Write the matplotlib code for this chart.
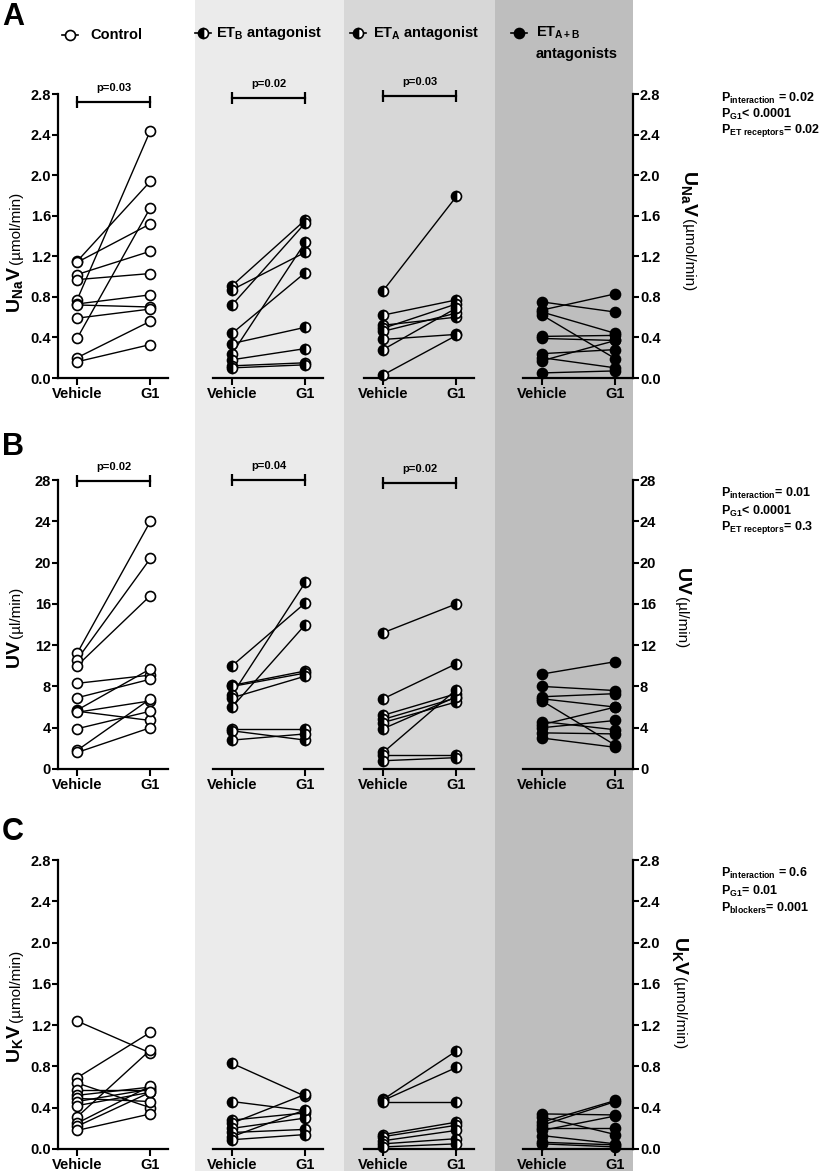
import matplotlib
matplotlib.use('Agg')
import matplotlib.pyplot as plt
from matplotlib.lines import Line2D
from matplotlib.patches import Rectangle
import numpy as np

plt.rcParams['font.family'] = ['Liberation Sans', 'DejaVu Sans']
plt.rcParams['mathtext.fontset'] = 'custom'
plt.rcParams['mathtext.rm'] = 'Liberation Sans'
plt.rcParams['mathtext.bf'] = 'Liberation Sans:bold'
plt.rcParams['mathtext.it'] = 'Liberation Sans:italic'
plt.rcParams['mathtext.sf'] = 'Liberation Sans'

# ---------------- data ----------------
conditions = ["Vehicle", "G1"]
groups = ["Control", "ETB antagonist", "ETA antagonist", "ETA+B antagonists"]

# Panel A: UNaV (umol/min)
A_ctrl_veh = [1.15, 1.14, 1.02, 0.97, 0.77, 0.73, 0.72, 0.59, 0.39, 0.20, 0.16]
A_ctrl_g1 = [1.94, 1.52, 1.25, 1.03, 2.44, 0.82, 0.70, 0.68, 1.68, 0.56, 0.33]
A_etb_veh = [0.91, 0.87, 0.72, 0.44, 0.34, 0.24, 0.18, 0.12, 0.10]
A_etb_g1 = [1.56, 1.24, 1.53, 1.04, 0.50, 1.34, 0.29, 0.15, 0.13]
A_eta_veh = [0.86, 0.62, 0.52, 0.49, 0.46, 0.38, 0.28, 0.03]
A_eta_g1 = [1.79, 0.77, 0.60, 0.73, 0.64, 0.43, 0.69, 0.42]
A_etab_veh = [0.75, 0.67, 0.65, 0.62, 0.41, 0.39, 0.24, 0.20, 0.17, 0.05]
A_etab_g1 = [0.65, 0.83, 0.44, 0.19, 0.42, 0.37, 0.28, 0.10, 0.37, 0.07]

# Panel B: UV (ul/min)
B_ctrl_veh = [11.2, 10.6, 10.0, 8.3, 6.9, 5.7, 5.6, 5.5, 3.9, 1.8, 1.6]
B_ctrl_g1 = [24.0, 20.4, 16.8, 9.1, 8.7, 9.7, 4.7, 6.6, 5.6, 6.8, 4.0]
B_etb_veh = [10.0, 8.1, 8.0, 7.2, 6.9, 6.0, 3.9, 3.7, 2.8]
B_etb_g1 = [16.1, 9.5, 9.3, 18.1, 9.0, 14.0, 3.9, 2.8, 3.4]
B_eta_veh = [13.2, 6.8, 5.2, 4.8, 4.5, 3.9, 1.6, 1.4, 0.8]
B_eta_g1 = [16.0, 10.2, 7.3, 6.9, 6.5, 7.0, 7.7, 1.4, 1.1]
B_etab_veh = [9.2, 8.0, 7.0, 6.8, 6.6, 4.6, 4.3, 4.0, 3.5, 3.0]
B_etab_g1 = [10.4, 7.6, 7.3, 6.0, 2.3, 3.8, 6.0, 4.7, 3.4, 2.1]

# Panel C: UKV (umol/min)
C_ctrl_veh = [1.24, 0.69, 0.64, 0.57, 0.52, 0.49, 0.46, 0.42, 0.31, 0.25, 0.22, 0.18]
C_ctrl_g1 = [0.93, 1.13, 0.40, 0.57, 0.60, 0.46, 0.58, 0.55, 0.96, 0.61, 0.55, 0.34]
C_etb_veh = [0.83, 0.46, 0.28, 0.25, 0.20, 0.16, 0.12, 0.09]
C_etb_g1 = [0.51, 0.37, 0.35, 0.53, 0.30, 0.19, 0.38, 0.14]
C_eta_veh = [0.48, 0.47, 0.46, 0.14, 0.12, 0.08, 0.05, 0.02]
C_eta_g1 = [0.95, 0.79, 0.46, 0.26, 0.23, 0.18, 0.10, 0.05]
C_etab_veh = [0.34, 0.31, 0.26, 0.23, 0.20, 0.18, 0.13, 0.065, 0.05]
C_etab_g1 = [0.33, 0.14, 0.47, 0.46, 0.20, 0.32, 0.05, 0.04, 0.02]

pvals_A = ["p=0.03", "p=0.02", "p=0.03", None]
pvals_B = ["p=0.02", "p=0.04", "p=0.02", None]
pvals_C = [None, None, None, None]

stats_A = [r"$\mathbf{P_{interaction}}$ = 0.02", r"$\mathbf{P_{G1}}$< 0.0001",
           r"$\mathbf{P_{ET\ receptors}}$= 0.02"]
stats_B = [r"$\mathbf{P_{interaction}}$= 0.01", r"$\mathbf{P_{G1}}$< 0.0001",
           r"$\mathbf{P_{ET\ receptors}}$= 0.3"]
stats_C = [r"$\mathbf{P_{interaction}}$ = 0.6", r"$\mathbf{P_{G1}}$= 0.01",
           r"$\mathbf{P_{blockers}}$= 0.001"]

rows = [
    dict(letter="A", data=[(A_ctrl_veh, A_ctrl_g1), (A_etb_veh, A_etb_g1), (A_eta_veh, A_eta_g1), (A_etab_veh, A_etab_g1)],
         ticks=[0, 0.4, 0.8, 1.2, 1.6, 2.0, 2.4, 2.8], fmt="{:.1f}", pv=pvals_A, stats=stats_A,
         lab_bold=r"$\mathbf{U_{Na}V}$", lab_unit="(µmol/min)"),
    dict(letter="B", data=[(B_ctrl_veh, B_ctrl_g1), (B_etb_veh, B_etb_g1), (B_eta_veh, B_eta_g1), (B_etab_veh, B_etab_g1)],
         ticks=[0, 4, 8, 12, 16, 20, 24, 28], fmt="{:d}", pv=pvals_B, stats=stats_B,
         lab_bold=r"$\mathbf{UV}$", lab_unit="(µl/min)"),
    dict(letter="C", data=[(C_ctrl_veh, C_ctrl_g1), (C_etb_veh, C_etb_g1), (C_eta_veh, C_eta_g1), (C_etab_veh, C_etab_g1)],
         ticks=[0, 0.4, 0.8, 1.2, 1.6, 2.0, 2.4, 2.8], fmt="{:.1f}", pv=pvals_C, stats=stats_C,
         lab_bold=r"$\mathbf{U_{K}V}$", lab_unit="(µmol/min)"),
]

# ---------------- layout (pixels) ----------------
W, H = 825, 1171
fig = plt.figure(figsize=(W / 100, H / 100), dpi=100)


def fx(x):
    return x / W


def fy(y):
    return 1 - y / H


band_cols = [(195, 344, '#ebebeb'), (344, 495, '#d7d7d7'), (495, 633, '#bebebe')]
for x0, x1, c in band_cols:
    fig.add_artist(Rectangle((fx(x0), 0), fx(x1) - fx(x0), 1, transform=fig.transFigure,
                             facecolor=c, edgecolor='none', zorder=-10))

col_left = [58, 213, 364, 523]
col_w = 110
row_span = [(94, 378), (480, 769), (860, 1149)]
letter_y = [2, 432, 817]
bracket_frac = [[0.972, 0.986, 0.993], [0.996, 1.0, 0.99]]
stat_y = [[98, 114, 130], [493, 511, 528], [873, 891, 908]]
left_lab = [(15, 266), (15, 640), (15, 1024)]
right_lab = [(689, 217), (682, 595), (680, 975)]

marker_styles = [
    dict(marker='o', markerfacecolor='white', markeredgecolor='k', fillstyle='full'),
    dict(marker='o', markerfacecolor='k', markerfacecoloralt='white', markeredgecolor='k', fillstyle='left'),
    dict(marker='o', markerfacecolor='k', markerfacecoloralt='white', markeredgecolor='k', fillstyle='left'),
    dict(marker='o', markerfacecolor='k', markeredgecolor='k', fillstyle='full'),
]
MS = 7.2
MEW = 1.2

for r, row in enumerate(rows):
    top, bot = row_span[r]
    ymax = row["ticks"][-1]
    for c in range(4):
        ax = fig.add_axes([fx(col_left[c]), fy(bot), col_w / W, (bot - top) / H])
        ax.patch.set_alpha(0)
        ax.set_xlim(-0.26, 1.24)
        ax.set_ylim(0, ymax)
        veh, g1 = row["data"][c]
        veh = np.asarray(veh)
        g1 = np.asarray(g1)
        xs = np.vstack([np.zeros(len(veh)), np.ones(len(g1))])
        ys = np.vstack([veh, g1])
        ax.plot(xs, ys, color='k', lw=1.0, clip_on=False, zorder=2)
        for i in range(len(veh)):
            ax.plot([0, 1], [veh[i], g1[i]], linestyle='none', markersize=MS,
                    markeredgewidth=MEW, clip_on=False, zorder=3, **marker_styles[c])
        for s in ['top', 'right', 'left']:
            ax.spines[s].set_visible(False)
        ax.spines['bottom'].set_linewidth(1.6)
        ax.set_xticks([0, 1], conditions, fontweight='bold', fontsize=10.5)
        ax.tick_params(axis='x', direction='out', length=5, width=1.5, pad=1.5)
        labels = [row["fmt"].format(t) for t in row["ticks"]]
        if c == 0:
            ax.spines['left'].set_visible(True)
            ax.spines['left'].set_linewidth(1.6)
            ax.set_yticks(row["ticks"], labels, fontweight='bold', fontsize=10.5)
            ax.tick_params(axis='y', direction='out', length=4, width=1.5, pad=1)
        elif c == 3:
            ax.spines['right'].set_visible(True)
            ax.spines['right'].set_linewidth(1.6)
            ax.yaxis.tick_right()
            ax.set_yticks(row["ticks"], labels, fontweight='bold', fontsize=10.5)
            ax.tick_params(axis='y', direction='out', length=4, width=1.5, pad=1)
        else:
            ax.tick_params(axis='y', left=False, labelleft=False)
        pv = row["pv"][c]
        if pv:
            yb = bracket_frac[r][c] * ymax
            ax.plot([0, 1], [yb, yb], color='k', lw=1.6, marker='|', markersize=8,
                    markeredgewidth=1.6, clip_on=False)
            ax.text(0.5, yb + 0.03 * ymax, pv, ha='center', va='bottom', fontsize=8,
                    fontweight='bold')

    # panel letter
    fig.text(fx(2), fy(letter_y[r]), row["letter"], fontsize=22, fontweight='bold',
             ha='left', va='top')
    # stats
    for k, s in enumerate(row["stats"]):
        fig.text(fx(721), fy(stat_y[r][k]), s, fontsize=9, fontweight='bold',
                 ha='left', va='center')
    # left y label
    lx, ly = left_lab[r]
    fig.text(fx(lx), fy(ly), row["lab_bold"], rotation=90, fontsize=14,
             ha='center', va='top')
    fig.text(fx(lx + 1), fy(ly - 2), row["lab_unit"], rotation=90, fontsize=11,
             ha='center', va='bottom')
    # right y label
    rx, ry = right_lab[r]
    fig.text(fx(rx), fy(ry), row["lab_bold"], rotation=-90, fontsize=14,
             ha='center', va='bottom')
    fig.text(fx(rx - 1), fy(ry + 2), row["lab_unit"], rotation=-90, fontsize=11,
             ha='center', va='top')

# ---------------- header legends ----------------
legend_pos = [(70, 35, 90), (203, 33, 216), (358, 33, 373), (519, 33, 536)]
legend_labels = ["Control", r"ET$_\mathbf{B}$ antagonist", r"ET$_\mathbf{A}$ antagonist",
                 r"ET$_\mathbf{A+B}$"]
for c, (mx, my, tx) in enumerate(legend_pos):
    ln = Line2D([fx(mx - 8), fx(mx), fx(mx + 8)], [fy(my)] * 3, transform=fig.transFigure,
                color='k', lw=1.2, markevery=[1], markersize=MS, markeredgewidth=MEW,
                **marker_styles[c])
    fig.add_artist(ln)
    fig.text(fx(tx), fy(my), legend_labels[c], fontsize=10.5, fontweight='bold',
             ha='left', va='center')
fig.text(fx(536), fy(54), "antagonists", fontsize=10.5, fontweight='bold',
         ha='left', va='center')

fig.savefig("out.png", dpi=100)
